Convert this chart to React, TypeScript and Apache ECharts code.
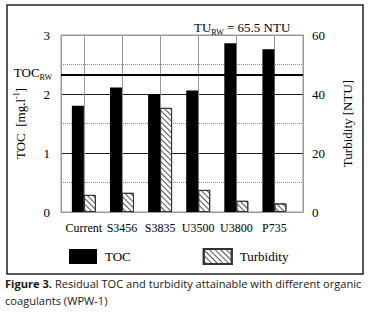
import { useEffect, useRef } from 'react';
import * as echarts from 'echarts';

const categories = ['Current', 'S3456', 'S3835', 'U3500', 'U3800', 'P735'];
const tocValues = [1.8, 2.11, 2.0, 2.06, 2.86, 2.76];
const turbidityValues = [5.8, 6.5, 35.3, 7.5, 3.8, 2.9];
const tocRawWater = 2.33;
const tocTicks = [0, 3, 1];
const turbidityTicks = [0, 60, 20];
const seriesNames = ['TOC', 'Turbidity'];
const turbidityRawLabel = 'TU{s|RW} = 65.5 NTU';
const captionBold = 'Figure 3.';
const captionText = ' Residual TOC and turbidity attainable with different organic';
const captionText2 = 'coagulants (WPW-1)';

const SERIF = '"Liberation Serif", "Times New Roman", serif';

export default function App() {
  const ref = useRef<HTMLDivElement>(null);
  useEffect(() => {
    if (!ref.current) return;
    const chart = echarts.init(ref.current, null, { renderer: 'svg' });
    const hatch = {
      symbol: 'rect',
      symbolSize: 1,
      color: '#555',
      backgroundColor: '#fff',
      dashArrayX: [1, 0],
      dashArrayY: [1, 2.5],
      rotation: Math.PI / 4,
    };
    chart.setOption({
      animation: false,
      backgroundColor: '#fff',
      textStyle: { fontFamily: SERIF, color: '#000' },
      grid: { left: 61, top: 35, right: 68, bottom: 101, show: true, borderColor: '#999', borderWidth: 1 },
      title: {
        text: turbidityRawLabel,
        left: 189,
        top: 14,
        padding: 5,
        textStyle: {
          fontFamily: SERIF,
          fontSize: 13,
          fontWeight: 'normal',
          color: '#000',
          rich: { s: { fontFamily: SERIF, fontSize: 8, color: '#000', padding: [9, 0, 0, 0] } },
        },
      },
      legend: {
        data: seriesNames,
        left: 69,
        top: 248,
        padding: 0,
        icon: 'rect',
        itemWidth: 28,
        itemHeight: 15,
        itemGap: 72,
        textStyle: { fontFamily: SERIF, fontSize: 13, color: '#000', padding: [0, 0, 0, 3] },
      },
      xAxis: {
        type: 'value',
        min: -0.6,
        max: 5.75,
        minInterval: 1,
        maxInterval: 1,
        axisLine: { show: true, lineStyle: { color: '#999' } },
        axisTick: { show: false },
        splitLine: { show: true, lineStyle: { color: '#999', width: 1 } },
        axisLabel: {
          fontFamily: SERIF,
          fontSize: 12,
          color: '#000',
          margin: 10,
          showMinLabel: false,
          showMaxLabel: false,
          formatter: (v: number) => (Number.isInteger(v) && categories[v] ? categories[v] : ''),
        },
      },
      yAxis: [
        {
          type: 'value',
          min: tocTicks[0],
          max: tocTicks[1],
          interval: tocTicks[2],
          name: 'TOC  [mg.l{s|-1}]',
          nameLocation: 'middle',
          nameGap: 33,
          nameTextStyle: {
            fontFamily: SERIF,
            fontSize: 13,
            color: '#000',
            rich: { s: { fontFamily: SERIF, fontSize: 8, color: '#000', padding: [0, 0, 8, 0] } },
          },
          axisLine: { show: true, lineStyle: { color: '#999' } },
          axisTick: { show: false },
          axisLabel: { fontFamily: SERIF, fontSize: 13, color: '#000', margin: 11 },
          splitLine: { show: true, lineStyle: { color: ['#999', '#222', '#222', '#999'], width: 1 } },
          minorTick: { show: false, splitNumber: 2 },
          minorSplitLine: { show: true, lineStyle: { color: '#888', type: [1, 1], width: 1 } },
        },
        {
          type: 'value',
          position: 'right',
          min: turbidityTicks[0],
          max: turbidityTicks[1],
          interval: turbidityTicks[2],
          name: 'Turbidity [NTU]',
          nameLocation: 'middle',
          nameGap: 38,
          nameRotate: 90,
          nameTextStyle: { fontFamily: SERIF, fontSize: 13, color: '#000' },
          axisLine: { show: true, lineStyle: { color: '#999' } },
          axisTick: { show: false },
          axisLabel: { fontFamily: SERIF, fontSize: 13, color: '#000', margin: 9 },
          splitLine: { show: false },
        },
      ],
      series: [
        {
          name: seriesNames[0],
          type: 'bar',
          yAxisIndex: 0,
          barWidth: 12,
          barGap: '0%',
          itemStyle: { color: '#000' },
          data: categories.map((_, i) => [i, tocValues[i]]),
          markLine: {
            silent: true,
            symbol: 'none',
            lineStyle: { color: '#000', width: 2, type: 'solid' },
            label: {
              show: true,
              position: 'start',
              distance: 9,
              formatter: 'TOC{s|RW}',
              fontFamily: SERIF,
              fontSize: 13,
              color: '#000',
              padding: [0, 0, 4, 0],
              rich: { s: { fontFamily: SERIF, fontSize: 8, color: '#000', padding: [9, 0, 0, 0] } },
            },
            data: [{ yAxis: tocRawWater }],
          },
        },
        {
          name: seriesNames[1],
          type: 'bar',
          yAxisIndex: 1,
          barWidth: 12,
          barGap: '0%',
          itemStyle: { color: '#fff', borderColor: '#333', borderWidth: 1, decal: hatch },
          data: categories.map((_, i) => [i, turbidityValues[i]]),
        },
      ],
      graphic: [
        {
          type: 'rect',
          shape: { x: 7, y: 5, width: 356, height: 269 },
          style: { fill: 'none', stroke: '#222', lineWidth: 1.5 },
          silent: true,
        },
        {
          type: 'text',
          x: 5,
          y: 275,
          style: {
            text: '{b|' + captionBold + '}{n|' + captionText + '}\n{n|' + captionText2 + '}',
            rich: {
              b: { fontFamily: '"Open Sans", sans-serif', fontSize: 11.1, fontWeight: 'bold', fill: '#1a1a1a', lineHeight: 17 },
              n: { fontFamily: '"Open Sans", sans-serif', fontSize: 11.1, fill: '#1a1a1a', lineHeight: 17 },
            },
          },
        },
      ],
    });
    return () => chart.dispose();
  }, []);
  return (
    <div
      ref={ref}
      style={{ position: 'fixed', left: 0, top: 0, width: 371, height: 313, background: '#fff' }}
    />
  );
}
